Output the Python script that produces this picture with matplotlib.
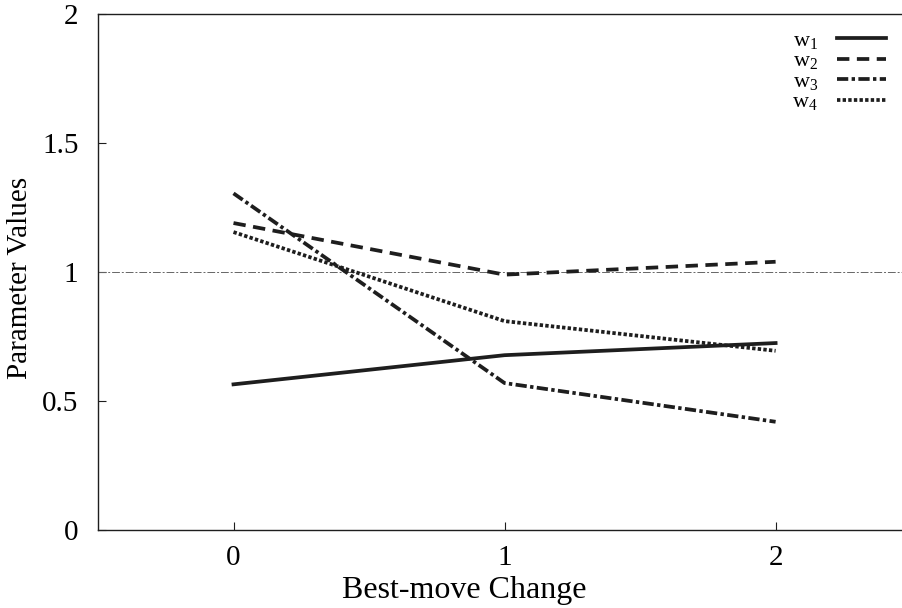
import numpy as np
import matplotlib
matplotlib.use('Agg')
import matplotlib.pyplot as plt

# values
xv = [0, 1, 2]
w1 = [0.565, 0.678, 0.725]
w2 = [1.19, 0.99, 1.04]
w3 = [1.305, 0.57, 0.42]
w4 = [1.155, 0.81, 0.695]
labels = [r'w$_1$', r'w$_2$', r'w$_3$', r'w$_4$']
yticks = [0, 0.5, 1, 1.5, 2]
yticklabels = ['0', '0.5', '1', '1.5', '2']

plt.rcParams['font.family'] = 'Liberation Serif'
plt.rcParams['mathtext.fontset'] = 'custom'
plt.rcParams['mathtext.rm'] = 'Liberation Serif'
plt.rcParams['mathtext.it'] = 'Liberation Serif'

f = plt.figure(figsize=(9.03, 6.08), dpi=100)
ax = f.add_axes([0.1085, 0.128, 0.9005, 0.849])

ax.axhline(1.0, color='#666666', lw=0.7, ls=(0, (8, 2, 2, 2)))
lw = 2.7
c = '#1e1e1e'
ax.plot(xv, w1, color=c, lw=lw, ls='-', label=labels[0])
ax.plot(xv, w2, color=c, lw=lw, ls=(0, (3.3, 2.0)), label=labels[1])
ax.plot(xv, w3, color=c, lw=lw, ls=(0, (3.0, 0.9, 0.9, 0.9)), label=labels[2])
ax.plot(xv, w4, color=c, lw=lw, ls=(0, (0.9, 0.6)), label=labels[3])

ax.set_xlim(-0.5, 2.5)
ax.set_ylim(0, 2)
ax.set_xticks(xv)
ax.set_yticks(yticks)
ax.set_yticklabels(yticklabels)
ax.tick_params(direction='in', length=6, width=0.8, labelsize=21, pad=14, color=c)
ax.tick_params(axis='x', pad=11)
for s in ax.spines.values():
    s.set_linewidth(1.0)
    s.set_color(c)
ax.set_xlabel('Best-move Change', fontsize=23)
ax.set_ylabel('Parameter Values', fontsize=21)
ax.xaxis.set_label_coords(0.451, -0.088)
ax.yaxis.set_label_coords(-0.08, 0.489)

ax.legend(loc='upper right', bbox_to_anchor=(0.991, 0.965), bbox_transform=f.transFigure,
          frameon=False, markerfirst=False, fontsize=16, handlelength=2.2,
          labelspacing=0.0, handletextpad=0.85, borderaxespad=0)

f.savefig('out.png', dpi=100)
